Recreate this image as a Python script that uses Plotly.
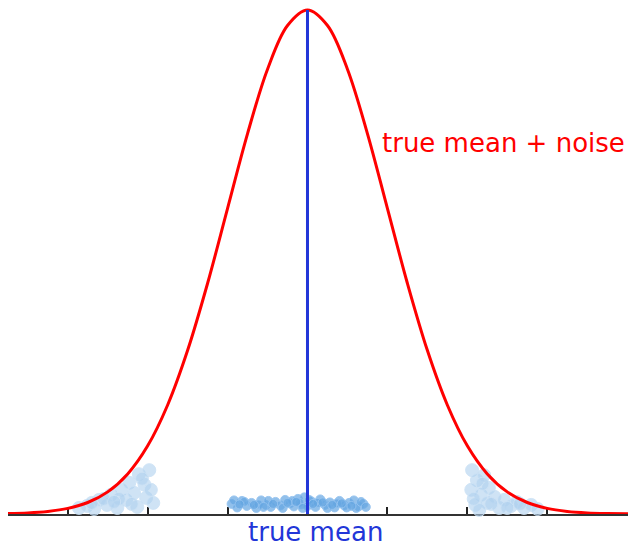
import plotly.graph_objects as go

# Bell curve (normalised to peak 1), read at x = -3.75 .. 4.25 step 0.25 (units of sigma)
curve_x = [-3.75, -3.5, -3.25, -3.0, -2.75, -2.5, -2.25, -2.0, -1.75, -1.5, -1.25, -1.0,
           -0.75, -0.5, -0.25, 0.0, 0.25, 0.5, 0.75, 1.0, 1.25, 1.5, 1.75, 2.0,
           2.25, 2.5, 2.75, 3.0, 3.25, 3.5, 3.75, 4.0, 4.25]
curve_y = [0.0009, 0.0022, 0.0051, 0.0111, 0.0228, 0.0439, 0.0796, 0.1353, 0.2163, 0.3247,
           0.4578, 0.6065, 0.7548, 0.8825, 0.9692, 1.0, 0.9692, 0.8825, 0.7548, 0.6065,
           0.4578, 0.3247, 0.2163, 0.1353, 0.0796, 0.0439, 0.0228, 0.0111, 0.0051, 0.0022,
           0.0009, 0.0003, 0.0001]

true_mean = 0.0

# Samples near the true mean
mid_x = [-0.95, -0.88, -0.82, -0.76, -0.70, -0.64, -0.58, -0.52, -0.46, -0.40, -0.34, -0.28,
         -0.22, -0.17, -0.12, -0.08, -0.04, 0.0, 0.05, 0.10, 0.16, 0.22, 0.28, 0.34, 0.40,
         0.46, 0.52, 0.58, 0.64, 0.70, -0.92, -0.79, -0.61, -0.49, -0.31, -0.19, -0.10,
         0.02, 0.13, 0.25, 0.37, 0.49, 0.61, -0.85, -0.67, -0.55, -0.43, -0.25, -0.14,
         -0.06, 0.07, 0.19, 0.31, 0.43, 0.55, 0.67, 0.73]
mid_y = [0.020, 0.013, 0.026, 0.016, 0.022, 0.012, 0.027, 0.018, 0.014, 0.024, 0.017, 0.028,
         0.021, 0.015, 0.030, 0.019, 0.033, 0.016, 0.025, 0.014, 0.029, 0.018, 0.023, 0.013,
         0.026, 0.017, 0.022, 0.027, 0.015, 0.020, 0.027, 0.024, 0.019, 0.026, 0.012,
         0.026, 0.022, 0.028, 0.022, 0.012, 0.021, 0.013, 0.012, 0.019, 0.018, 0.014,
         0.020, 0.022, 0.024, 0.012, 0.020, 0.023, 0.018, 0.021, 0.016, 0.024, 0.014]

# Samples in the left tail
left_x = [-2.86, -2.76, -2.67, -2.61, -2.51, -2.46, -2.38, -2.33, -2.27, -2.23, -2.17, -2.13,
          -2.11, -2.04, -2.02, -1.98, -1.96, -1.93, -2.36, -2.70, -2.55, -2.42, -2.07, -2.20]
left_y = [0.012, 0.016, 0.010, 0.028, 0.018, 0.038, 0.012, 0.048, 0.028, 0.062, 0.042, 0.014,
          0.079, 0.058, 0.032, 0.087, 0.048, 0.022, 0.030, 0.022, 0.030, 0.024, 0.070, 0.020]

# Samples in the right tail
right_x = [2.06, 2.12, 2.05, 2.21, 2.17, 2.10, 2.27, 2.25, 2.34, 2.40, 2.46, 2.55, 2.62,
           2.71, 2.80, 2.88, 2.15, 2.08, 2.19, 2.30, 2.50, 2.66]
right_y = [0.087, 0.067, 0.048, 0.077, 0.038, 0.018, 0.052, 0.022, 0.034, 0.012, 0.028,
           0.016, 0.024, 0.012, 0.018, 0.010, 0.008, 0.030, 0.060, 0.020, 0.012, 0.020]

tick_vals = [-3, -2, -1, 0, 1, 2, 3]

FONT = "DejaVu Sans"
RED = "#ff0000"
BLUE = "#2236d8"

fig = go.Figure()

tail_marker = dict(size=13, color="rgba(175,208,238,0.6)", symbol="circle",
                   line=dict(width=1, color="rgba(205,226,245,0.9)"))
fig.add_trace(go.Scatter(x=left_x, y=left_y, mode="markers", marker=tail_marker,
                         hoverinfo="skip", cliponaxis=False))
fig.add_trace(go.Scatter(x=right_x, y=right_y, mode="markers", marker=tail_marker,
                         hoverinfo="skip", cliponaxis=False))
fig.add_trace(go.Scatter(x=mid_x, y=mid_y, mode="markers",
                         marker=dict(size=9, color="rgba(100,165,225,0.7)", symbol="circle",
                                     line=dict(width=1, color="rgba(150,195,240,0.9)")),
                         hoverinfo="skip", cliponaxis=False))

fig.add_trace(go.Scatter(x=curve_x, y=curve_y, mode="lines",
                         line=dict(color=RED, width=3, shape="spline"),
                         hoverinfo="skip", cliponaxis=False))

fig.add_trace(go.Scatter(x=[true_mean, true_mean], y=[0, 1.0], mode="lines",
                         line=dict(color=BLUE, width=3),
                         hoverinfo="skip", cliponaxis=False))

fig.add_annotation(x=2.447, y=0.736, xref="x", yref="y", text="true mean + noise",
                   showarrow=False, font=dict(family=FONT, size=26, color=RED),
                   xanchor="center", yanchor="middle")
fig.add_annotation(x=0.10, y=-0.035, xref="x", yref="paper", text="true mean",
                   showarrow=False, font=dict(family=FONT, size=26, color=BLUE),
                   xanchor="center", yanchor="middle")

fig.update_layout(
    width=628, height=544,
    margin=dict(l=8, r=0, t=0, b=30),
    paper_bgcolor="white", plot_bgcolor="white",
    showlegend=False,
    xaxis=dict(range=[-3.748, 4.011], showgrid=False, zeroline=False,
               showline=True, linecolor="#333333", linewidth=2,
               tickvals=tick_vals, ticks="inside", ticklen=7, tickwidth=1.5,
               tickcolor="#222222", showticklabels=False, layer="below traces",
               fixedrange=True),
    yaxis=dict(range=[0, 1.0198], visible=False, fixedrange=True),
)

fig.write_html(
    "out.html",
    config={"displayModeBar": False},
    post_script="document.body.style.margin='0';document.body.style.overflow='hidden';",
)
